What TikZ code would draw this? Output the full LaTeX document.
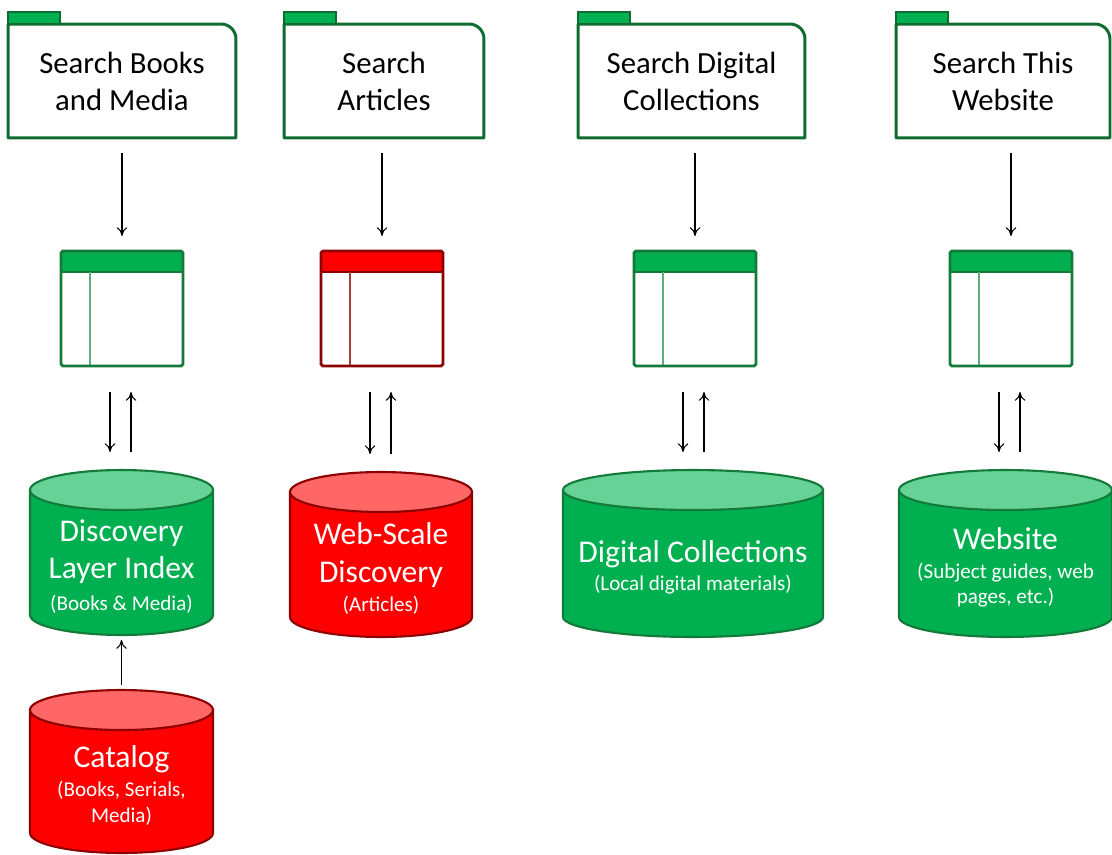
\documentclass[tikz,border=0pt]{standalone}
\usepackage{fontspec}
\setmainfont{Carlito}
\usetikzlibrary{arrows.meta,positioning,backgrounds}

\definecolor{gfill}{HTML}{00B050}
\definecolor{gtop}{HTML}{66D296}
\definecolor{gline}{HTML}{137A3A}
\definecolor{gdiv}{HTML}{5FAF7A}
\definecolor{gfold}{HTML}{0F6B30}
\definecolor{rfill}{HTML}{FF0000}
\definecolor{rtop}{HTML}{FF6666}
\definecolor{rline}{HTML}{8C0000}
\definecolor{rdiv}{HTML}{A83A3A}

\newcommand\subsize{\fontsize{12}{14}\selectfont}

\tikzset{
  folder/.style={rectangle, outer sep=0pt, minimum height=2.28cm, align=center,
    font=\fontsize{17.5}{21}\selectfont},
  folderline/.style={draw=gfold, line width=1.7pt, line join=round},
  foldertab/.style={draw=gfold, fill=gfill, line width=1.5pt},
  window/.style={rectangle, outer sep=0pt, draw=#1line, line width=1.6pt,
    rounded corners=1pt, fill=white, minimum width=2.44cm, minimum height=2.3cm,
    path picture={
      \fill[#1fill] (path picture bounding box.north west)
        rectangle ([yshift=-0.42cm]path picture bounding box.north east);
      \draw[#1line, line width=1.2pt] ([yshift=-0.42cm]path picture bounding box.north west)
        -- ([yshift=-0.42cm]path picture bounding box.north east);
      \draw[#1div, line width=0.8pt] ([xshift=0.58cm,yshift=-0.42cm]path picture bounding box.north west)
        -- ([xshift=0.58cm]path picture bounding box.south west);
    }},
  store/.style={rectangle, outer sep=0pt, minimum height=2.74cm, text=white,
    align=center, font=\fontsize{18}{21.5}\selectfont},
  storebody/.style={draw=#1line, fill=#1fill, line width=1.2pt},
  storetop/.style={draw=#1line, fill=#1top, line width=1.2pt},
  link/.style={-{To[length=5pt,width=6pt]}, line width=0.6pt}
}

\begin{document}
\begin{tikzpicture}[x=0.02cm, y=-0.02cm]
  \useasboundingbox (0,0) rectangle (1112,855);

  % search boxes
  \node[folder, minimum width=4.56cm] (f1) at (122,81) {Search Books\\and Media};
  \node[folder, minimum width=4cm] (f2) at (384,81) {Search\\Articles};
  \node[folder, minimum width=4.54cm] (f3) at (691.5,81) {Search Digital\\Collections};
  \node[folder, minimum width=4.28cm] (f4) at (1003,81) {Search This\\Website};
  \foreach \f in {f1,f2,f3,f4} {
    \draw[folderline] (\f.south west) -- (\f.north west)
      -- ([xshift=-0.3cm]\f.north east) arc[start angle=90, end angle=0, radius=0.3cm]
      -- (\f.south east) -- cycle;
    \draw[foldertab] (\f.north west) rectangle ++(1.04cm,0.24cm);
  }

  % result windows
  \node[window=g] (w1) at (122,308.5) {};
  \node[window=r] (w2) at (382,308.5) {};
  \node[window=g] (w3) at (695,308.5) {};
  \node[window=g] (w4) at (1011,308.5) {};

  % indexes (text box starts a little below the centre of the top ellipse)
  \node[store, minimum width=3.66cm] (s1) at (121.5,566.5)
    {Discovery\\[-0.5pt]Layer Index\\[-3.5pt]{\subsize (Books \& Media)}};
  \node[store, minimum width=3.64cm] (s2) at (381,568.5)
    {Web-Scale\\[0pt]Discovery\\[-5pt]{\subsize (Articles)}};
  \node[store, minimum width=5.2cm, minimum height=2.78cm] (s3) at (693,567.5)
    {Digital Collections\\[-5.5pt]{\subsize (Local digital materials)}};
  \node[store, minimum width=4.26cm, minimum height=2.78cm] (s4) at (1005.5,567.5)
    {Website\\[-5pt]{\subsize (Subject guides, web}\\[-7.5pt]{\subsize pages, etc.)}};
  \node[store, minimum width=3.66cm, minimum height=2.7cm] (s5) at (121.5,785.5)
    {Catalog\\[-5pt]{\subsize (Books, Serials,}\\[-7pt]{\subsize Media)}};

  \begin{scope}[on background layer]
    \foreach \s/\c/\rx in {s1/g/1.83cm, s2/r/1.82cm, s3/g/2.6cm, s4/g/2.13cm, s5/r/1.83cm} {
      \draw[storebody=\c] ([yshift=0.16cm]\s.north west) -- ([yshift=0.4cm]\s.south west)
        arc[start angle=180, end angle=360, x radius=\rx, y radius=0.4cm]
        -- ([yshift=0.16cm]\s.north east) -- cycle;
      \draw[storetop=\c] ([yshift=0.16cm]\s.north) ellipse[x radius=\rx, y radius=0.4cm];
    }
  \end{scope}

  % connectors
  \foreach \f/\w/\s in {f1/w1/s1, f2/w2/s2, f3/w3/s3, f4/w4/s4} {
    \draw[link, shorten <=0.3cm, shorten >=0.3cm] (\w.north |- \f.south) -- (\w.north);
    \draw[link, shorten <=0.52cm, shorten >=0.92cm]
      ([xshift=-0.24cm]\w.south) -- ([xshift=-0.24cm]\w.south |- \s.north);
    \draw[link, shorten <=0.92cm, shorten >=0.52cm]
      ([xshift=0.18cm]\w.south |- \s.north) -- ([xshift=0.18cm]\w.south);
  }
  \draw[link, shorten <=0.66cm, shorten >=0.1cm] (s5.north -| s1.south) -- (s1.south);
\end{tikzpicture}
\end{document}
